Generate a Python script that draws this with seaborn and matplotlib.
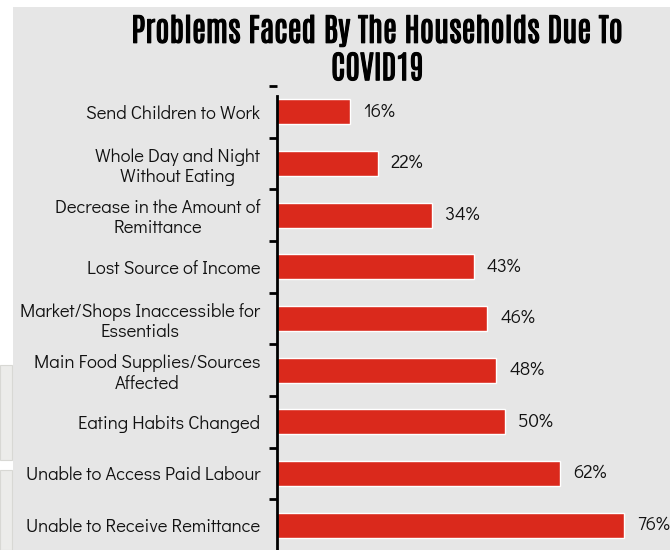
import matplotlib.pyplot as plt
import matplotlib.patches as patches
import matplotlib.patheffects as pe
import seaborn as sns
import pandas as pd

problems = ['Send Children to Work', 'Whole Day and Night\nWithout Eating',
            'Decrease in the Amount of\nRemittance', 'Lost Source of Income',
            'Market/Shops Inaccessible for\nEssentials', 'Main Food Supplies/Sources\nAffected',
            'Eating Habits Changed', 'Unable to Access Paid Labour',
            'Unable to Receive Remittance']
percent = [16, 22, 34, 43, 46, 48, 50, 62, 76]

df = pd.DataFrame({'problem': problems, 'percent': percent})

sns.set_style('white')
plt.rcParams['font.family'] = ['Didact Gothic', 'Lato', 'DejaVu Sans']

fig = plt.figure(figsize=(6.7, 5.5), dpi=100)
fig.patch.set_facecolor('white')
bg = '#e6e6e6'
fig.patches.append(patches.Rectangle((13 / 670, 0), 1, (550 - 7) / 550, transform=fig.transFigure,
                                     facecolor=bg, edgecolor='none', zorder=-5))
fig.patches.append(patches.Rectangle((0, (550 - 460) / 550), 12 / 670, 95 / 550, transform=fig.transFigure,
                                     facecolor='#ececea', edgecolor='#d8d8d4', lw=0.8, zorder=-5))
fig.patches.append(patches.Rectangle((0, 0), 12 / 670, 80 / 550, transform=fig.transFigure,
                                     facecolor='#ececea', edgecolor='#d8d8d4', lw=0.8, zorder=-5))

ax = fig.add_axes([277 / 670, -1 / 550, (670 - 277) / 670, (551 - 86) / 550])
ax.set_facecolor(bg)

sns.barplot(data=df, x='percent', y='problem', orient='h', color='#da291c', width=0.48, ax=ax, saturation=1)

for i, v in enumerate(percent):
    ax.text(v + 2.8, i, f'{v}%', va='center', ha='left', fontsize=13.5, color='#111111')

ax.set_xlim(0, 86)
ax.set_ylim(8.5, -0.5)
ax.set_xlabel('')
ax.set_ylabel('')
ax.set_xticks([])
ax.set_yticks(range(len(problems)))
ax.set_yticklabels(problems, fontsize=13.3, multialignment='center', color='#111111')
ax.tick_params(axis='y', length=0, pad=12)
ax.set_yticks([i + 0.5 for i in range(-1, len(problems))], minor=True)
ax.tick_params(axis='y', which='minor', length=6, width=2, color='black', direction='out', left=True)

for s in ['top', 'right', 'bottom']:
    ax.spines[s].set_visible(False)
ax.spines['left'].set_linewidth(2)
ax.spines['left'].set_color('black')
ax.spines['left'].set_bounds(8.5, -0.3)

# title font has no bold face, thicken it a little with a stroke
title_font = ['Antonio', 'Oswald', 'DejaVu Sans']
bold = [pe.withStroke(linewidth=0.8, foreground='black')]
fig.text(377 / 670, 0.944, 'Problems Faced By The Households Due To', ha='center', va='center',
         fontsize=23, fontweight='bold', family=title_font, color='black', path_effects=bold)
fig.text(377 / 670, 0.876, 'COVID19', ha='center', va='center',
         fontsize=23, fontweight='bold', family=title_font, color='black', path_effects=bold)

fig.savefig('out.png', dpi=100)
